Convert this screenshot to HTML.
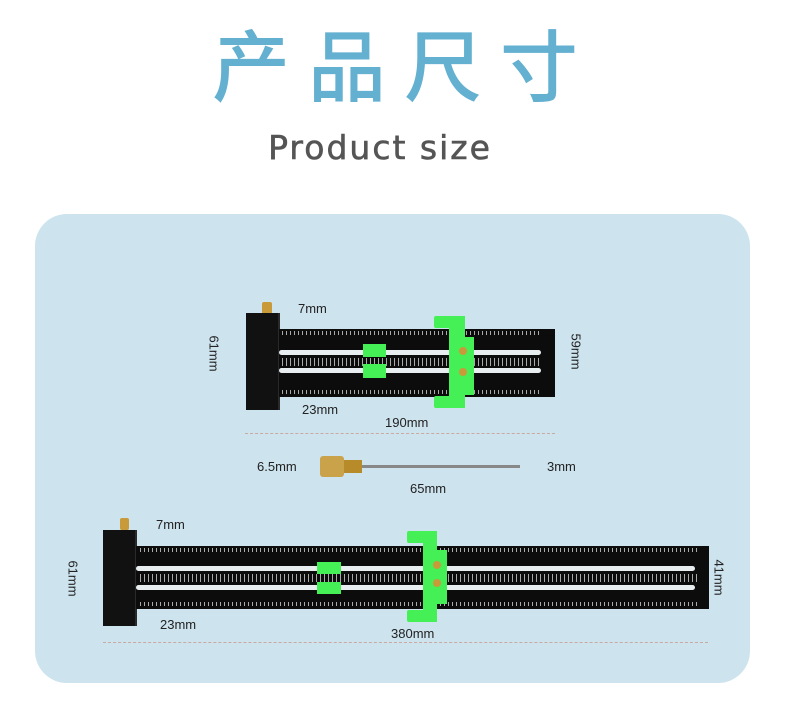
<!DOCTYPE html>
<html><head><meta charset="utf-8"><style>
*{margin:0;padding:0;box-sizing:border-box}
body{width:790px;height:704px;background:#fff;position:relative;overflow:hidden;font-family:"Liberation Sans","Noto Sans CJK SC",sans-serif}
.a{position:absolute}
.t{font-size:13px;color:#222;white-space:nowrap}
.blk{background:#111;border-right:2px solid #2a2a2a}
.bar{background:#0c0c0c}
.slot{background:#e8eef0;border-radius:3px}
.tick{background:repeating-linear-gradient(90deg,#aaa 0 1px,transparent 1px 4px)}
.g{background:#44f055}
.br{background:#c99a3a;border-radius:50%}
.d{border-color:#c9a9a0;border-style:dashed;border-width:0}
</style></head><body>
<div class="a" style="left:0;top:12px;width:790px;text-align:center;font-family:'Noto Sans CJK SC',sans-serif;font-weight:500;font-size:78px;letter-spacing:18px;color:#63b0d0;padding-left:18px;line-height:100px">产品尺寸</div>
<div class="a" style="left:0;top:128px;width:760px;text-align:center;font-family:'DejaVu Sans',sans-serif;font-size:33px;letter-spacing:2px;color:#555;-webkit-text-stroke:0.6px #555">Product size</div>
<div class="a" style="left:35px;top:214px;width:715px;height:469px;background:#cde3ee;border-radius:32px"></div>

<!-- top ruler -->
<div class="a br" style="left:262px;top:302px;width:10px;height:12px;border-radius:2px"></div>
<div class="a blk" style="left:246px;top:313px;width:34px;height:97px"></div>
<div class="a bar" style="left:279px;top:329px;width:276px;height:68px"></div>
<div class="a tick" style="left:282px;top:331px;width:260px;height:4px"></div>
<div class="a tick" style="left:282px;top:390px;width:260px;height:4px"></div>
<div class="a tick" style="left:282px;top:358px;width:260px;height:8px"></div>
<div class="a slot" style="left:279px;top:350px;width:262px;height:5px"></div>
<div class="a slot" style="left:279px;top:368px;width:262px;height:5px"></div>
<div class="a g" style="left:363px;top:344px;width:23px;height:13px"></div>
<div class="a g" style="left:363px;top:364px;width:23px;height:14px"></div>
<div class="a g" style="left:434px;top:316px;width:31px;height:12px;border-radius:2px"></div>
<div class="a g" style="left:434px;top:396px;width:31px;height:12px;border-radius:2px"></div>
<div class="a g" style="left:449px;top:316px;width:16px;height:92px"></div>
<div class="a g" style="left:450px;top:337px;width:24px;height:58px"></div>
<div class="a br" style="left:459px;top:347px;width:8px;height:8px"></div>
<div class="a br" style="left:459px;top:368px;width:8px;height:8px"></div>
<div class="a t" style="left:298px;top:301px">7mm</div>
<div class="a t" style="left:302px;top:402px">23mm</div>
<div class="a t" style="left:385px;top:415px">190mm</div>
<div class="a t" style="left:196px;top:346px;transform:rotate(90deg)">61mm</div>
<div class="a t" style="left:558px;top:344px;transform:rotate(90deg)">59mm</div>
<div class="a d" style="left:245px;top:433px;width:310px;border-top-width:1px"></div>

<!-- pin -->
<div class="a" style="left:320px;top:456px;width:24px;height:21px;background:#c9a24a;border-radius:3px"></div>
<div class="a" style="left:344px;top:460px;width:18px;height:13px;background:#b88b2a"></div>
<div class="a" style="left:362px;top:465px;width:158px;height:3px;background:#888"></div>
<div class="a t" style="left:257px;top:459px">6.5mm</div>
<div class="a t" style="left:547px;top:459px">3mm</div>
<div class="a t" style="left:410px;top:481px">65mm</div>

<!-- bottom ruler -->
<div class="a br" style="left:120px;top:518px;width:9px;height:12px;border-radius:2px"></div>
<div class="a blk" style="left:103px;top:530px;width:34px;height:96px"></div>
<div class="a bar" style="left:136px;top:546px;width:573px;height:63px"></div>
<div class="a tick" style="left:140px;top:548px;width:560px;height:4px"></div>
<div class="a tick" style="left:140px;top:602px;width:560px;height:4px"></div>
<div class="a tick" style="left:140px;top:574px;width:560px;height:8px"></div>
<div class="a slot" style="left:136px;top:566px;width:559px;height:5px"></div>
<div class="a slot" style="left:136px;top:585px;width:559px;height:5px"></div>
<div class="a g" style="left:317px;top:562px;width:24px;height:12px"></div>
<div class="a g" style="left:317px;top:582px;width:24px;height:12px"></div>
<div class="a g" style="left:407px;top:531px;width:30px;height:12px;border-radius:2px"></div>
<div class="a g" style="left:407px;top:610px;width:30px;height:12px;border-radius:2px"></div>
<div class="a g" style="left:423px;top:531px;width:14px;height:91px"></div>
<div class="a g" style="left:423px;top:550px;width:24px;height:54px"></div>
<div class="a br" style="left:433px;top:561px;width:8px;height:8px"></div>
<div class="a br" style="left:433px;top:579px;width:8px;height:8px"></div>
<div class="a t" style="left:156px;top:517px">7mm</div>
<div class="a t" style="left:160px;top:617px">23mm</div>
<div class="a t" style="left:391px;top:626px">380mm</div>
<div class="a t" style="left:55px;top:571px;transform:rotate(90deg)">61mm</div>
<div class="a t" style="left:701px;top:570px;transform:rotate(90deg)">41mm</div>
<div class="a d" style="left:103px;top:642px;width:605px;border-top-width:1px"></div>
</body></html>
